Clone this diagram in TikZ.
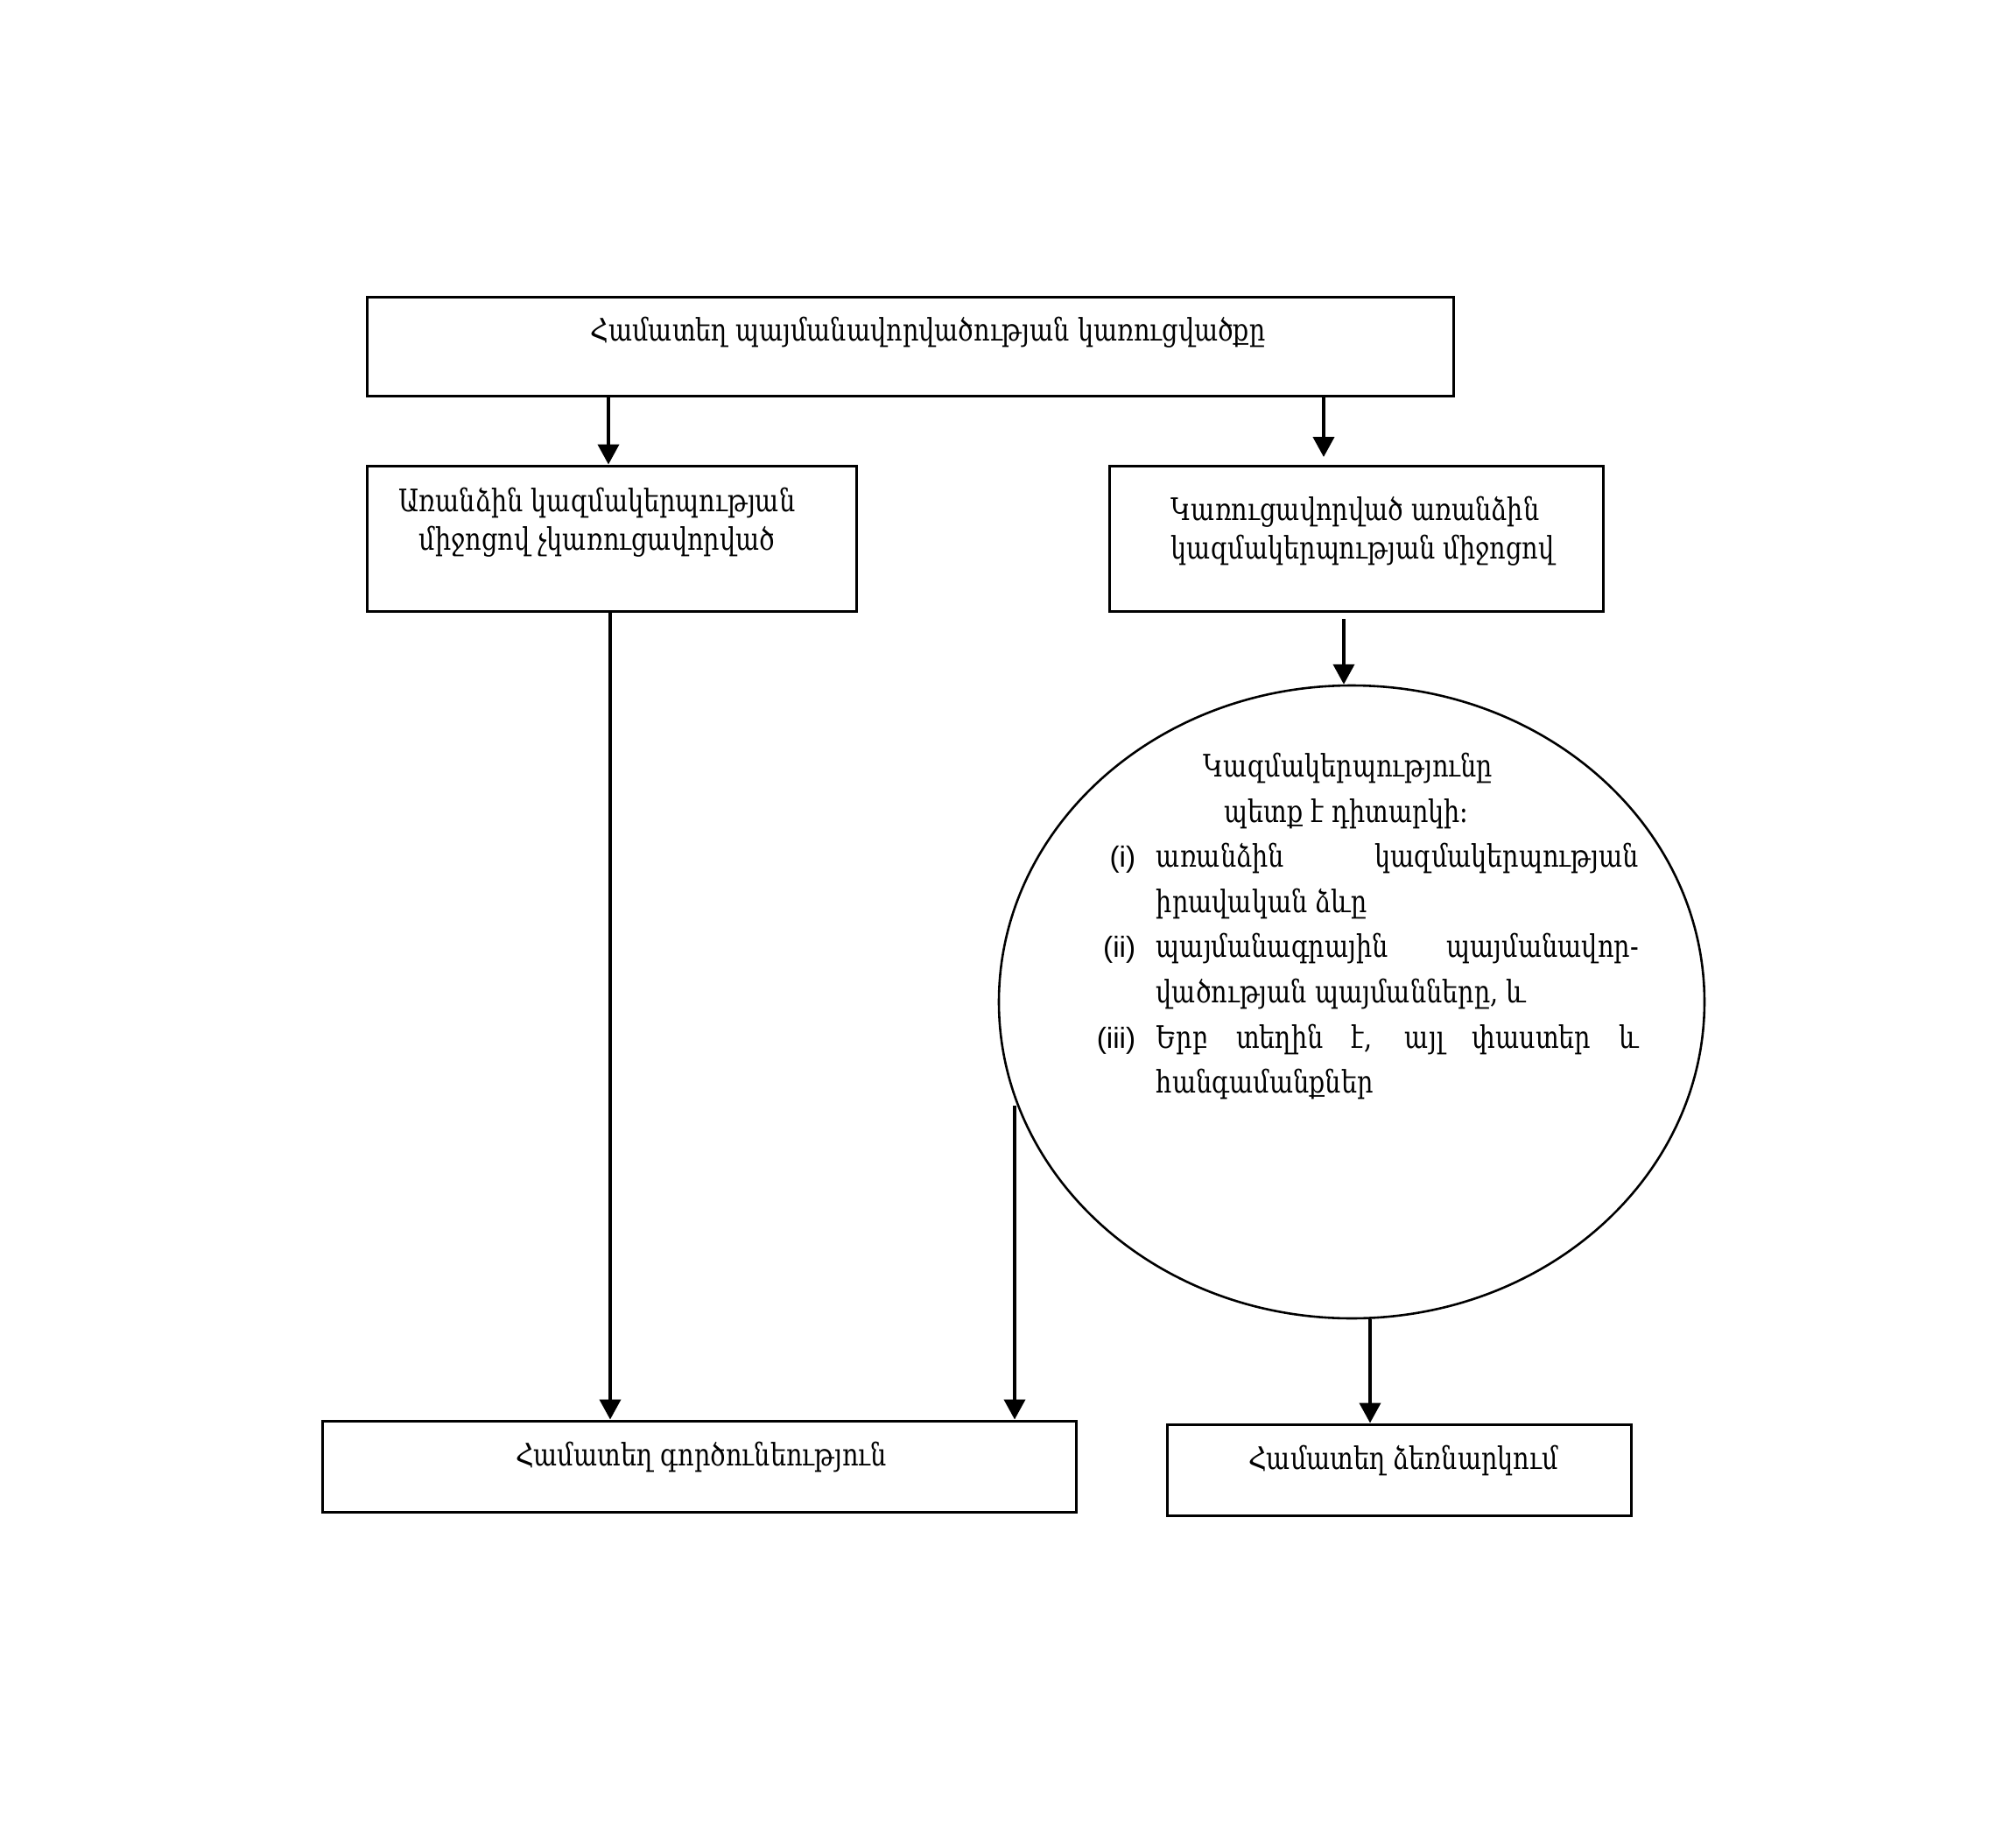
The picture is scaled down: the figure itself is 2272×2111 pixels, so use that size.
\documentclass[tikz,border=0pt]{standalone}
\usepackage{fontspec}
\setmainfont{DejaVu Serif}[FakeStretch=0.81]
\newfontfamily\labfont{Liberation Sans}
\usetikzlibrary{arrows.meta,shapes.geometric}
\begin{document}
\begin{tikzpicture}[x=0.24pt,y=-0.24pt,
  boxstyle/.style={draw,line width=0.72pt,rectangle,inner sep=0pt},
  ellstyle/.style={draw,line width=0.62pt,ellipse,inner sep=0pt},
  arr/.style={line width=0.79pt,-{Triangle[length=5.5pt,width=5.8pt]}},
  txt/.style={inner sep=0pt,anchor=base,font=\fontsize{8.5}{10.5}\selectfont},
  ltxt/.style={txt,anchor=base west},
  lab/.style={inner sep=0pt,anchor=base east,font=\labfont\fontsize{8}{12.4}\selectfont},
  ]
\useasboundingbox (0,0) rectangle (2272,2111);
% boxes
\node[boxstyle,minimum width=298.08pt,minimum height=27.12pt] (top) at (1040,395.5) {};
\node[boxstyle,minimum width=134.4pt,minimum height=39.84pt] (left) at (699,615) {};
\node[boxstyle,minimum width=135.36pt,minimum height=39.84pt] (right) at (1549,615) {};
\node[ellstyle,minimum width=193.44pt,minimum height=173.52pt] (ell) at (1544,1144.5) {};
\node[boxstyle,minimum width=206.88pt,minimum height=24.96pt] (bl) at (799,1675) {};
\node[boxstyle,minimum width=127.2pt,minimum height=24.96pt] (br) at (1598,1679) {};
% texts
\node[txt] (ttop) at (1060,389) {Համատեղ պայմանավորվածության կառուցվածքը};
\node[txt] (tl1) at (682,584) {Առանձին կազմակերպության};
\node[txt] (tl2) at (682,628) {միջոցով չկառուցավորված};
\node[ltxt] (tr1) at (1337,594) {Կառուցավորված առանձին};
\node[ltxt] (tr2) at (1337,638) {կազմակերպության միջոցով};
\node[txt] (th1) at (1540,887) {Կազմակերպությունը};
\node[txt] (th2) at (1538,939) {պետք է դիտարկի:};
\node[lab] (l1) at (1298,990) {(i)};
\node[ltxt] (e1) at (1320,990) {\makebox[132.24pt][s]{առանձին կազմակերպության}};
\node[ltxt] (e2) at (1320,1042) {իրավական ձևը};
\node[lab] (l2) at (1298,1093) {(ii)};
\node[ltxt] (e3) at (1320,1093) {\makebox[132.24pt][s]{պայմանագրային պայմանավոր-}};
\node[ltxt] (e4) at (1320,1145) {վածության պայմանները, և};
\node[lab] (l3) at (1298,1197) {(iii)};
\node[ltxt] (e5) at (1320,1197) {\makebox[132.24pt][s]{Երբ տեղին է, այլ փաստեր և}};
\node[ltxt] (e6) at (1320,1248) {հանգամանքներ};
\node[txt] (tbl) at (801,1674) {Համատեղ գործունեություն};
\node[txt] (tbr) at (1603,1678) {Համատեղ ձեռնարկում};
% connectors
\coordinate (a1) at (695,0);
\coordinate (a2) at (1512,522);
\coordinate (a3) at (1535,707);
\coordinate (a4) at (1565,0);
\coordinate (a5) at (697,0);
\coordinate (a6) at (1159,1263);
\draw[arr] (top.south -| a1) -- (left.north -| a1);
\draw[arr] (top.south -| a2) -- (a2);
\draw[arr] (a3) -- (a3 |- ell.north);
\draw[arr] (left.south -| a5) -- (bl.north -| a5);
\draw[arr] (a6) -- (a6 |- bl.north);
\draw[arr] (ell.south -| a4) -- (br.north -| a4);
\end{tikzpicture}
\end{document}
